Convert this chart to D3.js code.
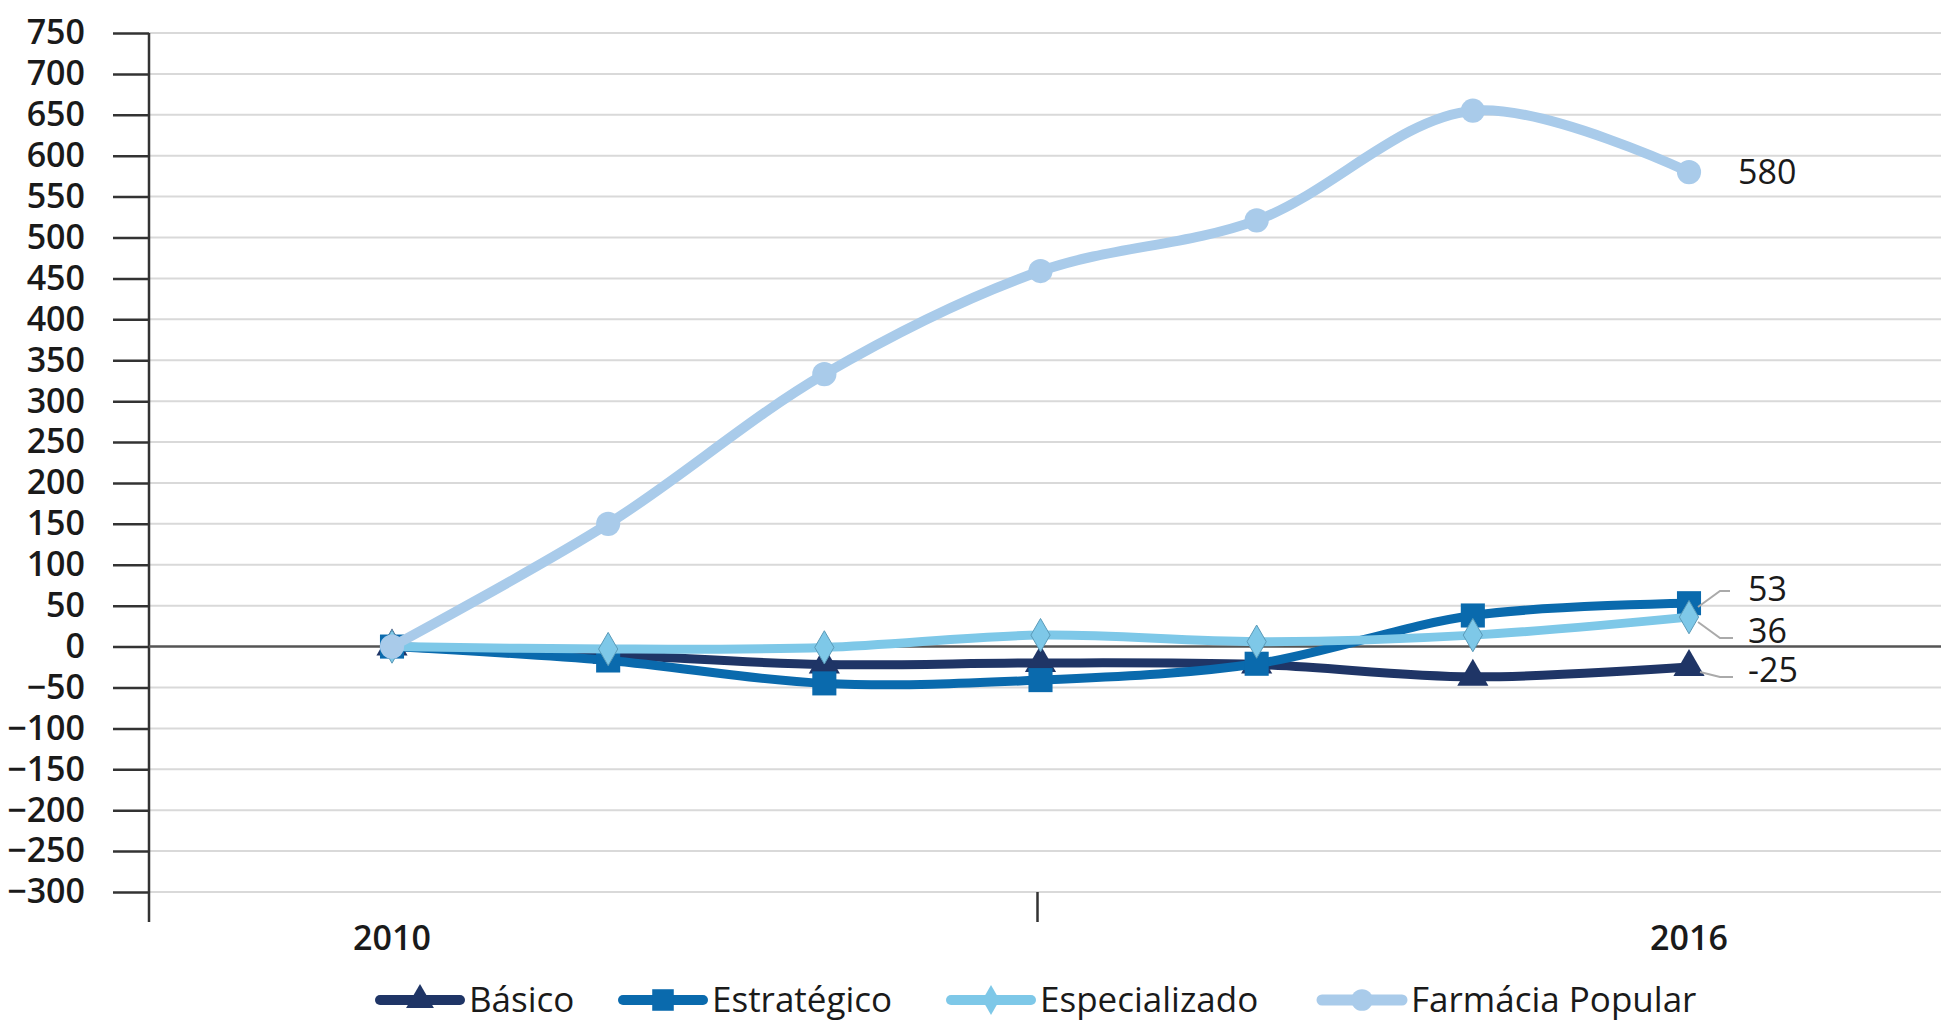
<!DOCTYPE html>
<html>
<head>
<meta charset="utf-8">
<script src="https://cdn.jsdelivr.net/npm/d3@7"></script>
<style>
  html, body { margin: 0; padding: 0; background: #fff; }
  svg { display: block; font-family: "Open Sans", sans-serif; }
</style>
</head>
<body>
<svg id="chart" width="1941" height="1020"></svg>
<script>
// ---------- data ----------
const years        = [2010, 2011, 2012, 2013, 2014, 2015, 2016];
const basico       = [0, -10, -22, -20, -22, -37, -25];
const estrategico  = [0, -17, -45, -41, -21, 38, 53];
const especializado= [0, -3, -1, 14, 6, 14, 36];
const farmacia     = [0, 150, 333, 459, 521, 655, 580];
const yTicks       = d3.range(-300, 751, 50);
const xLabels      = [2010, 2016];
const seriesNames  = ["Básico", "Estratégico", "Especializado", "Farmácia Popular"];
const endLabels    = ["-25", "53", "36", "580"];

// ---------- layout ----------
const W = 1941, H = 1020;
const axisX = 149;
const svg = d3.select("#chart");

const x = d3.scalePoint().domain(years).range([392, 1689]).padding(0);
const y = d3.scaleLinear().domain([-300, 750]).range([892, 33]);

// gridlines
svg.append("g")
  .selectAll("line")
  .data(yTicks.filter(d => d !== 0))
  .join("line")
  .attr("x1", axisX).attr("x2", W)
  .attr("y1", d => y(d)).attr("y2", d => y(d))
  .attr("stroke", "#d9d9d9").attr("stroke-width", 2);

// y axis
const yAxis = svg.append("g")
  .attr("transform", `translate(${axisX},0)`)
  .call(d3.axisLeft(y).tickValues(yTicks).tickSize(36).tickPadding(28));
yAxis.select(".domain").remove();
yAxis.selectAll(".tick line").attr("stroke", "#333").attr("stroke-width", 2.5);
yAxis.selectAll(".tick text")
  .attr("font-size", 34).attr("font-weight", 600).attr("fill", "#1a1a1a")
  .attr("font-family", "Open Sans");

svg.append("line")
  .attr("x1", axisX).attr("x2", axisX).attr("y1", y(750)).attr("y2", 922)
  .attr("stroke", "#333").attr("stroke-width", 2.5);

// zero line
svg.append("line")
  .attr("x1", axisX).attr("x2", W).attr("y1", y(0)).attr("y2", y(0))
  .attr("stroke", "#555").attr("stroke-width", 2.5);

// x axis (single category tick + end labels)
svg.append("line")
  .attr("x1", x(2013) - 3).attr("x2", x(2013) - 3)
  .attr("y1", y(-300)).attr("y2", 922)
  .attr("stroke", "#333").attr("stroke-width", 2.5);

svg.append("g")
  .selectAll("text")
  .data(xLabels)
  .join("text")
  .attr("x", d => x(d)).attr("y", 950)
  .attr("text-anchor", "middle")
  .attr("font-size", 34).attr("font-weight", 600).attr("fill", "#1a1a1a")
  .text(d => d);

// ---------- series ----------
const series = [
  { name: seriesNames[0], values: basico,        color: "#1f3566", width: 9,  symbol: d3.symbolTriangle, size: 420 },
  { name: seriesNames[1], values: estrategico,   color: "#0a6aad", width: 9,  symbol: d3.symbolSquare,   size: 580 },
  { name: seriesNames[2], values: especializado, color: "#7ec8e8", width: 9,  symbol: d3.symbolDiamond,  size: 320 },
  { name: seriesNames[3], values: farmacia,      color: "#a9cbea", width: 10, symbol: d3.symbolCircle,   size: 460 }
];

const line = d3.line()
  .x((d, i) => x(years[i]))
  .y(d => y(d))
  .curve(d3.curveCatmullRom.alpha(0.5));

series.forEach(s => {
  const g = svg.append("g");
  g.append("path")
    .datum(s.values)
    .attr("fill", "none")
    .attr("stroke", s.color)
    .attr("stroke-width", s.width)
    .attr("stroke-linecap", "round")
    .attr("d", line);
  g.selectAll("path.pt")
    .data(s.values)
    .join("path")
    .attr("class", "pt")
    .attr("transform", (d, i) => `translate(${x(years[i])},${y(d)})`)
    .attr("d", d3.symbol().type(s.symbol).size(s.size))
    .attr("fill", s.color)
    .attr("stroke", s.symbol === d3.symbolDiamond ? "#5a9ab8" : "none")
    .attr("stroke-width", 1);
});

// ---------- end labels ----------
const last = years.length - 1;
const lbl = svg.append("g").attr("font-size", 34).attr("fill", "#1a1a1a");
// Farmácia
lbl.append("text").attr("x", 1738).attr("y", y(farmacia[last]) + 12).text(endLabels[3]);
// Estratégico / Especializado / Básico with leader lines
const leaders = [
  { v: estrategico[last],   ty: 589, label: endLabels[1], pts: [[1698, 607], [1720, 591], [1730, 591]] },
  { v: especializado[last], ty: 631, label: endLabels[2], pts: [[1698, 622], [1720, 638], [1733, 638]] },
  { v: basico[last],        ty: 670, label: endLabels[0], pts: [[1700, 672], [1720, 677], [1733, 677]] }
];
leaders.forEach(l => {
  svg.append("polyline")
    .attr("points", l.pts.map(p => p.join(",")).join(" "))
    .attr("fill", "none").attr("stroke", "#aaa").attr("stroke-width", 2);
  lbl.append("text").attr("x", 1748).attr("y", l.ty + 12).text(l.label);
});

// ---------- legend ----------
const legendX = [380, 623, 951, 1322];
const legY = 1000;
series.forEach((s, i) => {
  const g = svg.append("g").attr("transform", `translate(${legendX[i]},${legY})`);
  g.append("line")
    .attr("x1", 0).attr("x2", 80)
    .attr("stroke", s.color).attr("stroke-width", s.width + 1)
    .attr("stroke-linecap", "round");
  g.append("path")
    .attr("transform", "translate(40,0)")
    .attr("d", d3.symbol().type(s.symbol).size(s.size * 0.8))
    .attr("fill", s.color);
  g.append("text")
    .attr("x", 89).attr("y", 12)
    .attr("font-size", 35).attr("fill", "#1a1a1a")
    .text(s.name);
});
</script>
</body>
</html>
